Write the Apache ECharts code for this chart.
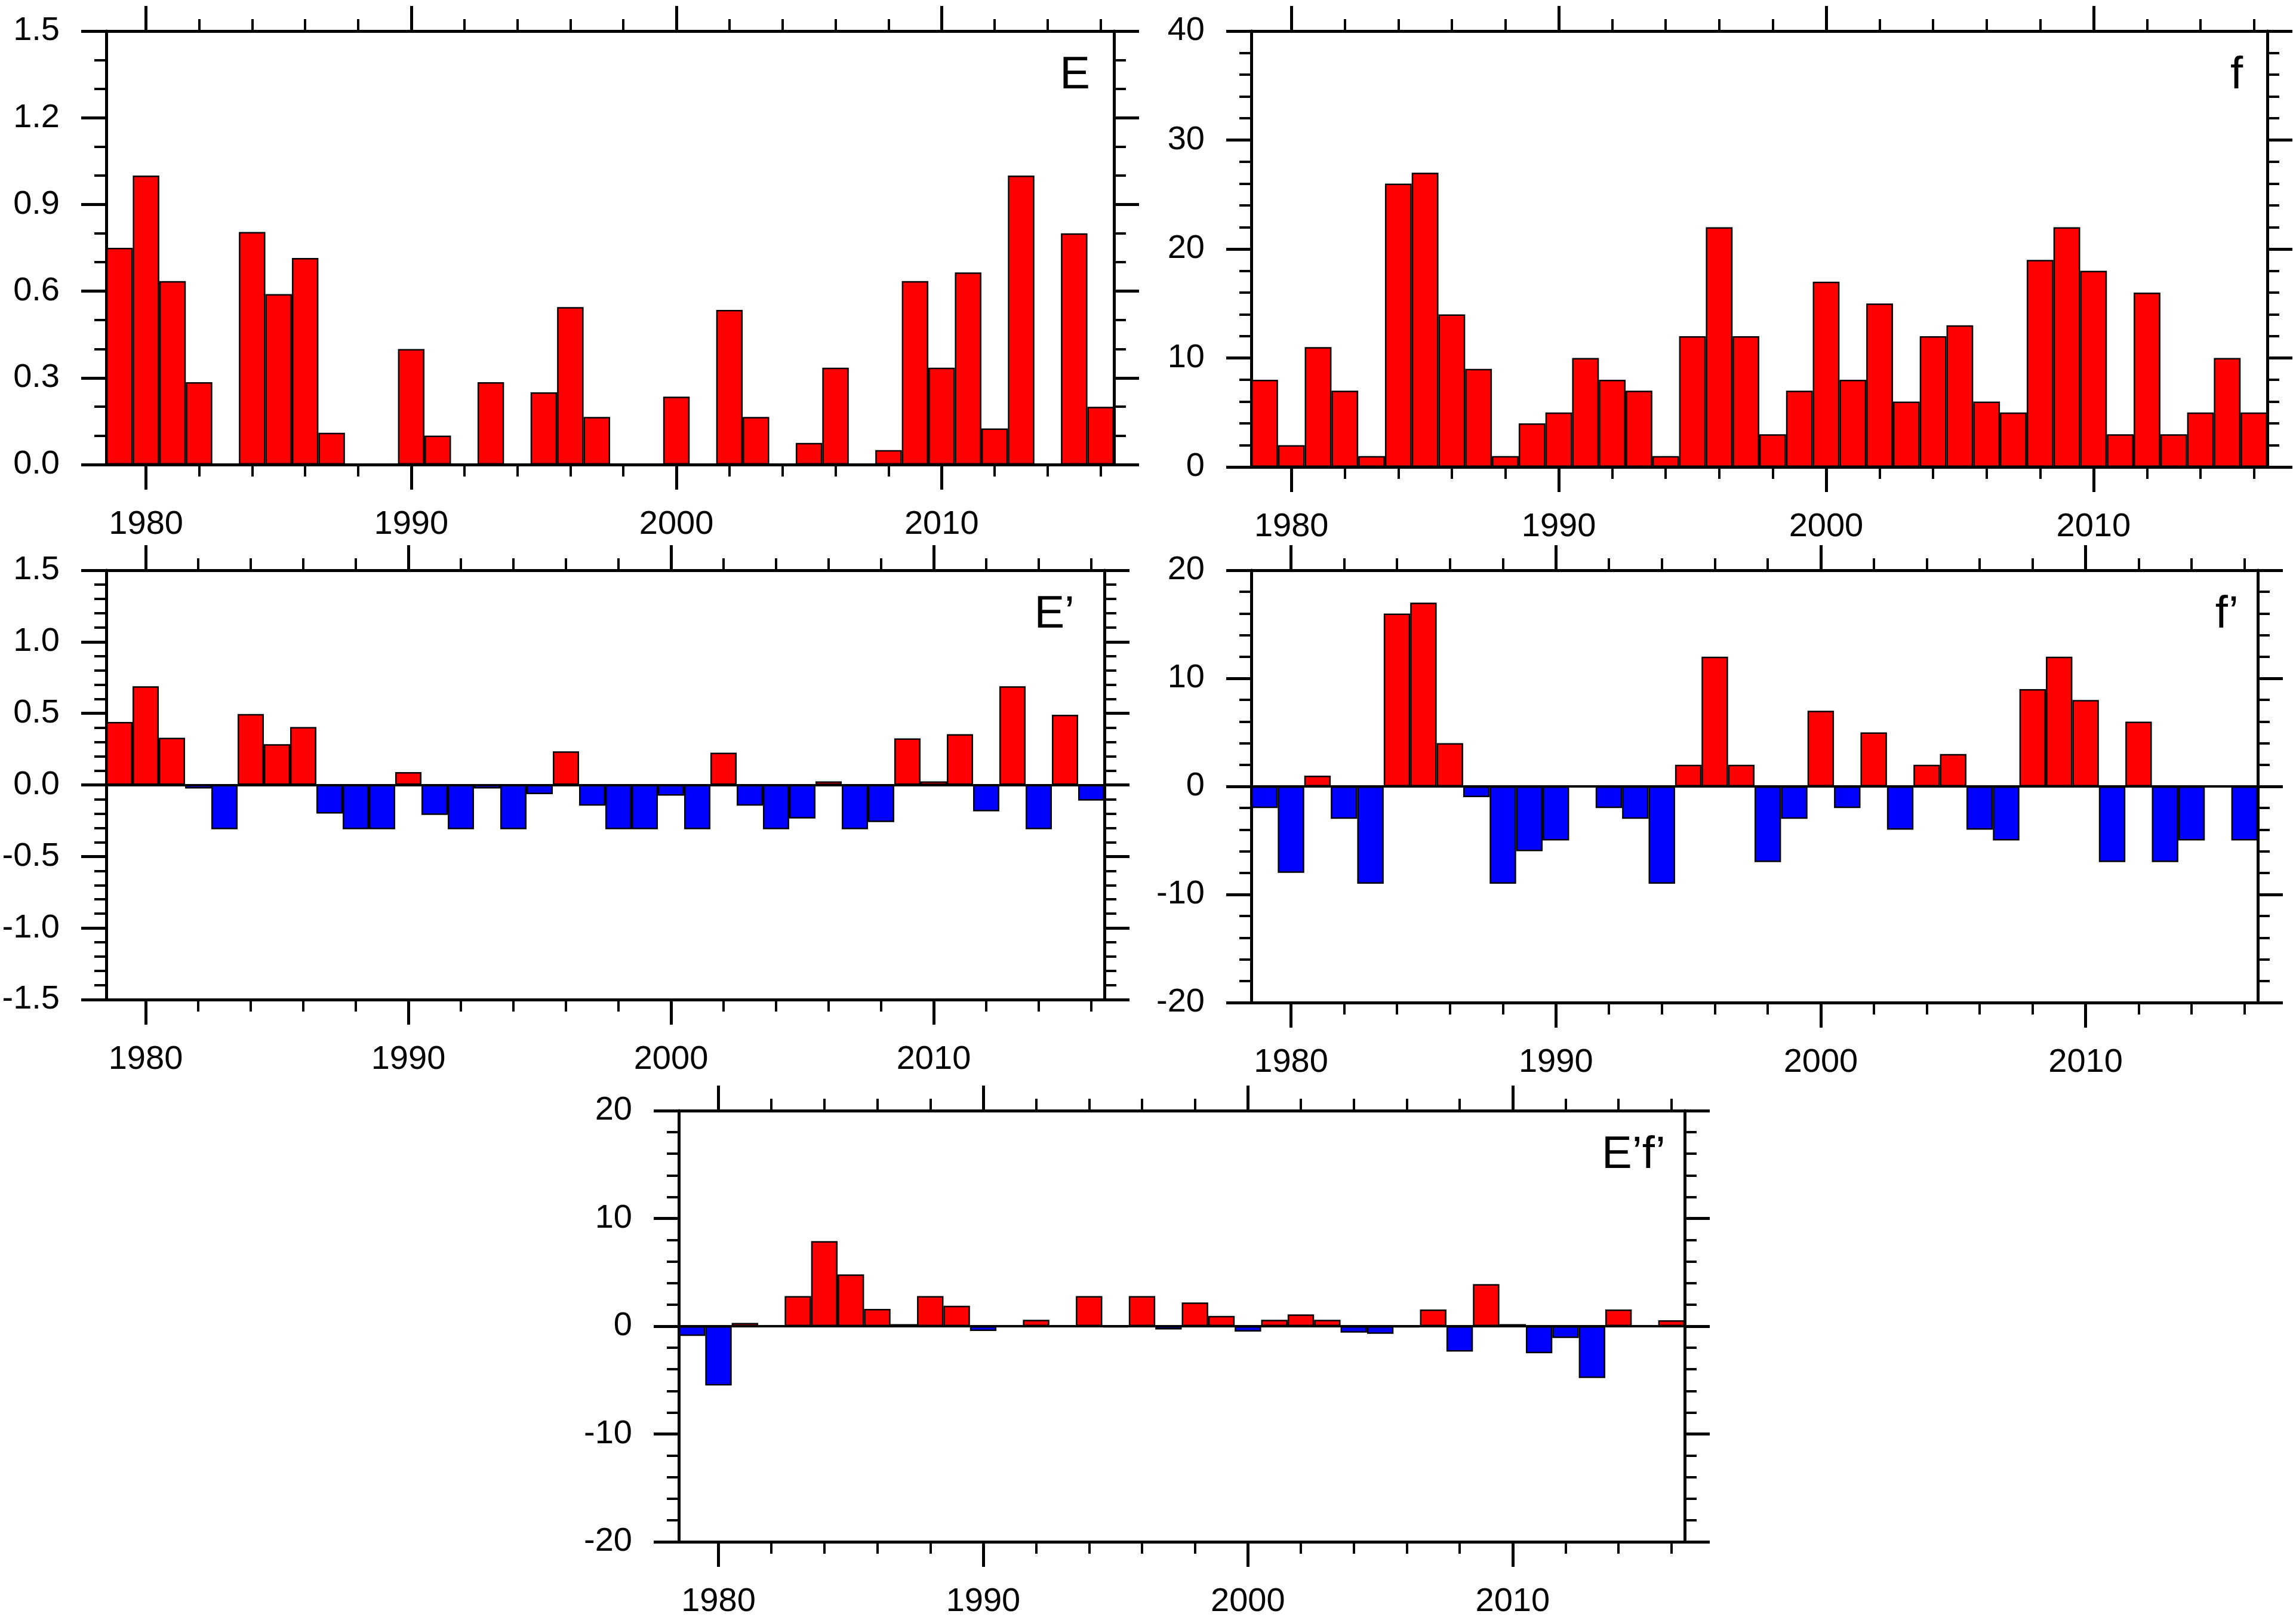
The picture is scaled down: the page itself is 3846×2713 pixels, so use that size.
<!DOCTYPE html>
<html lang="en">
<head>
<meta charset="UTF-8">
<title>E, f and anomalies</title>
<script src="https://cdn.jsdelivr.net/npm/echarts@6/dist/echarts.min.js"></script>
<style>
  html, body { margin: 0; padding: 0; background: #fff; }
</style>
</head>
<body>
<div id="main" style="width: 3846px; height: 2713px;"></div>
<script type="text/javascript">
var years = ['1979', '1980', '1981', '1982', '1983', '1984', '1985', '1986', '1987', '1988',
             '1989', '1990', '1991', '1992', '1993', '1994', '1995', '1996', '1997', '1998',
             '1999', '2000', '2001', '2002', '2003', '2004', '2005', '2006', '2007', '2008',
             '2009', '2010', '2011', '2012', '2013', '2014', '2015', '2016'];

// E
var E = [0.75, 1.0, 0.635, 0.285, 0, 0.805, 0.59, 0.715, 0.11, 0,
         0, 0.40, 0.10, 0, 0.285, 0, 0.25, 0.545, 0.165, 0,
         0, 0.235, 0, 0.535, 0.165, 0, 0.075, 0.335, 0, 0.05,
         0.635, 0.335, 0.665, 0.125, 1.0, 0, 0.80, 0.20];

// f
var f = [8, 2, 11, 7, 1, 26, 27, 14, 9, 1,
         4, 5, 10, 8, 7, 1, 12, 22, 12, 3,
         7, 17, 8, 15, 6, 12, 13, 6, 5, 19,
         22, 18, 3, 16, 3, 5, 10, 5];

// E'
var Ep = [0.44, 0.69, 0.33, -0.025, -0.31, 0.495, 0.285, 0.405, -0.20, -0.31,
          -0.31, 0.09, -0.21, -0.31, -0.025, -0.31, -0.065, 0.235, -0.145, -0.31,
          -0.31, -0.075, -0.31, 0.225, -0.145, -0.31, -0.235, 0.025, -0.31, -0.26,
          0.325, 0.025, 0.355, -0.185, 0.69, -0.31, 0.49, -0.11];

// f'
var fp = [-2, -8, 1, -3, -9, 16, 17, 4, -1, -9,
          -6, -5, 0, -2, -3, -9, 2, 12, 2, -7,
          -3, 7, -2, 5, -4, 2, 3, -4, -5, 9,
          12, 8, -7, 6, -7, -5, 0, -5];

// E'f'
var Epfp = [-0.9, -5.5, 0.3, 0.08, 2.8, 7.9, 4.8, 1.6, 0.2, 2.8,
            1.9, -0.45, 0, 0.6, 0.08, 2.8, -0.12, 2.8, -0.3, 2.2,
            0.95, -0.5, 0.6, 1.1, 0.6, -0.6, -0.7, -0.1, 1.55, -2.35,
            3.9, 0.2, -2.5, -1.1, -4.8, 1.55, 0, 0.55];

var FONT = '"Liberation Sans", Arial, Helvetica, sans-serif';

// box = [left, top, width, height] of each plot frame, lx = right edge of the panel name
var panels = [
    { name: 'E',      data: E,    min: 0,    max: 1.5, step: 0.3, minor: 3, digits: 1, zero: false, box: [178, 52, 1688, 726],  lx: 1826 },
    { name: 'f',      data: f,    min: 0,    max: 40,  step: 10,  minor: 5, digits: 0, zero: false, box: [2096, 52, 1702, 730], lx: 3757 },
    { name: 'E\u2019', data: Ep,  min: -1.5, max: 1.5, step: 0.5, minor: 5, digits: 1, zero: true,  box: [178, 955, 1672, 719], lx: 1800 },
    { name: 'f\u2019', data: fp,  min: -20,  max: 20,  step: 10,  minor: 5, digits: 0, zero: true,  box: [2096, 955, 1686, 724], lx: 3750 },
    { name: 'E\u2019f\u2019', data: Epfp, min: -20, max: 20, step: 10, minor: 5, digits: 0, zero: true, box: [1137, 1860, 1685, 722], lx: 2790 }
];

function isDecade(index, value) { return Number(value) % 10 === 0; }
function isEven(index, value) { return Number(value) % 2 === 0; }

function xAxisDef(gi, pos, major) {
    return {
        type: 'category',
        gridIndex: gi,
        position: pos,
        data: years,
        boundaryGap: true,
        axisLine: { show: major, onZero: false, lineStyle: { color: '#000', width: 5 } },
        axisTick: {
            show: true,
            alignWithLabel: true,
            interval: major ? isDecade : isEven,
            length: major ? 42 : 20,
            lineStyle: { color: '#000', width: major ? 5 : 4 }
        },
        axisLabel: {
            show: major && pos === 'bottom',
            interval: isDecade,
            margin: 73,
            fontSize: 56,
            fontFamily: FONT,
            color: '#000'
        },
        splitLine: { show: false }
    };
}

function yAxisDef(gi, p, pos) {
    return {
        type: 'value',
        gridIndex: gi,
        position: pos,
        min: p.min,
        max: p.max,
        interval: p.step,
        axisLine: { show: true, onZero: false, lineStyle: { color: '#000', width: 5 } },
        axisTick: { show: true, length: 42, lineStyle: { color: '#000', width: 5 } },
        minorTick: { show: true, splitNumber: p.minor, length: 20, lineStyle: { color: '#000', width: 4 } },
        axisLabel: {
            show: pos === 'left',
            margin: 78,
            fontSize: 56,
            fontFamily: FONT,
            color: '#000',
            formatter: function (v) { return v.toFixed(p.digits); }
        },
        splitLine: { show: false },
        minorSplitLine: { show: false }
    };
}

var grids = [], xAxes = [], yAxes = [], series = [], labels = [];

panels.forEach(function (p, gi) {
    grids.push({
        left: p.box[0], top: p.box[1], width: p.box[2], height: p.box[3],
        containLabel: false, outerBoundsMode: 'none'
    });
    xAxes.push(xAxisDef(gi, 'bottom', true));
    xAxes.push(xAxisDef(gi, 'bottom', false));
    xAxes.push(xAxisDef(gi, 'top', true));
    xAxes.push(xAxisDef(gi, 'top', false));
    yAxes.push(yAxisDef(gi, p, 'left'));
    yAxes.push(yAxisDef(gi, p, 'right'));

    var s = {
        type: 'bar',
        name: p.name,
        xAxisIndex: gi * 4,
        yAxisIndex: gi * 2,
        data: p.data,
        barCategoryGap: '0%',
        itemStyle: {
            color: function (params) { return params.value < 0 ? '#0000ff' : '#ff0000'; },
            borderColor: '#000',
            borderWidth: 2.5
        }
    };
    if (p.zero) {
        s.markLine = {
            silent: true,
            symbol: ['none', 'none'],
            label: { show: false },
            lineStyle: { color: '#000', width: 4, type: 'solid' },
            data: [{ yAxis: 0 }]
        };
    }
    series.push(s);

    labels.push({
        type: 'text',
        x: p.lx,
        y: p.box[1] + 75,
        style: {
            text: p.name,
            font: '76px ' + FONT,
            fill: '#000',
            align: 'right',
            verticalAlign: 'middle'
        }
    });
});

var chartDom = document.getElementById('main');
var myChart = echarts.init(chartDom);
var option = {
    backgroundColor: '#fff',
    animation: false,
    grid: grids,
    xAxis: xAxes,
    yAxis: yAxes,
    series: series,
    graphic: labels
};
option && myChart.setOption(option);
</script>
</body>
</html>
